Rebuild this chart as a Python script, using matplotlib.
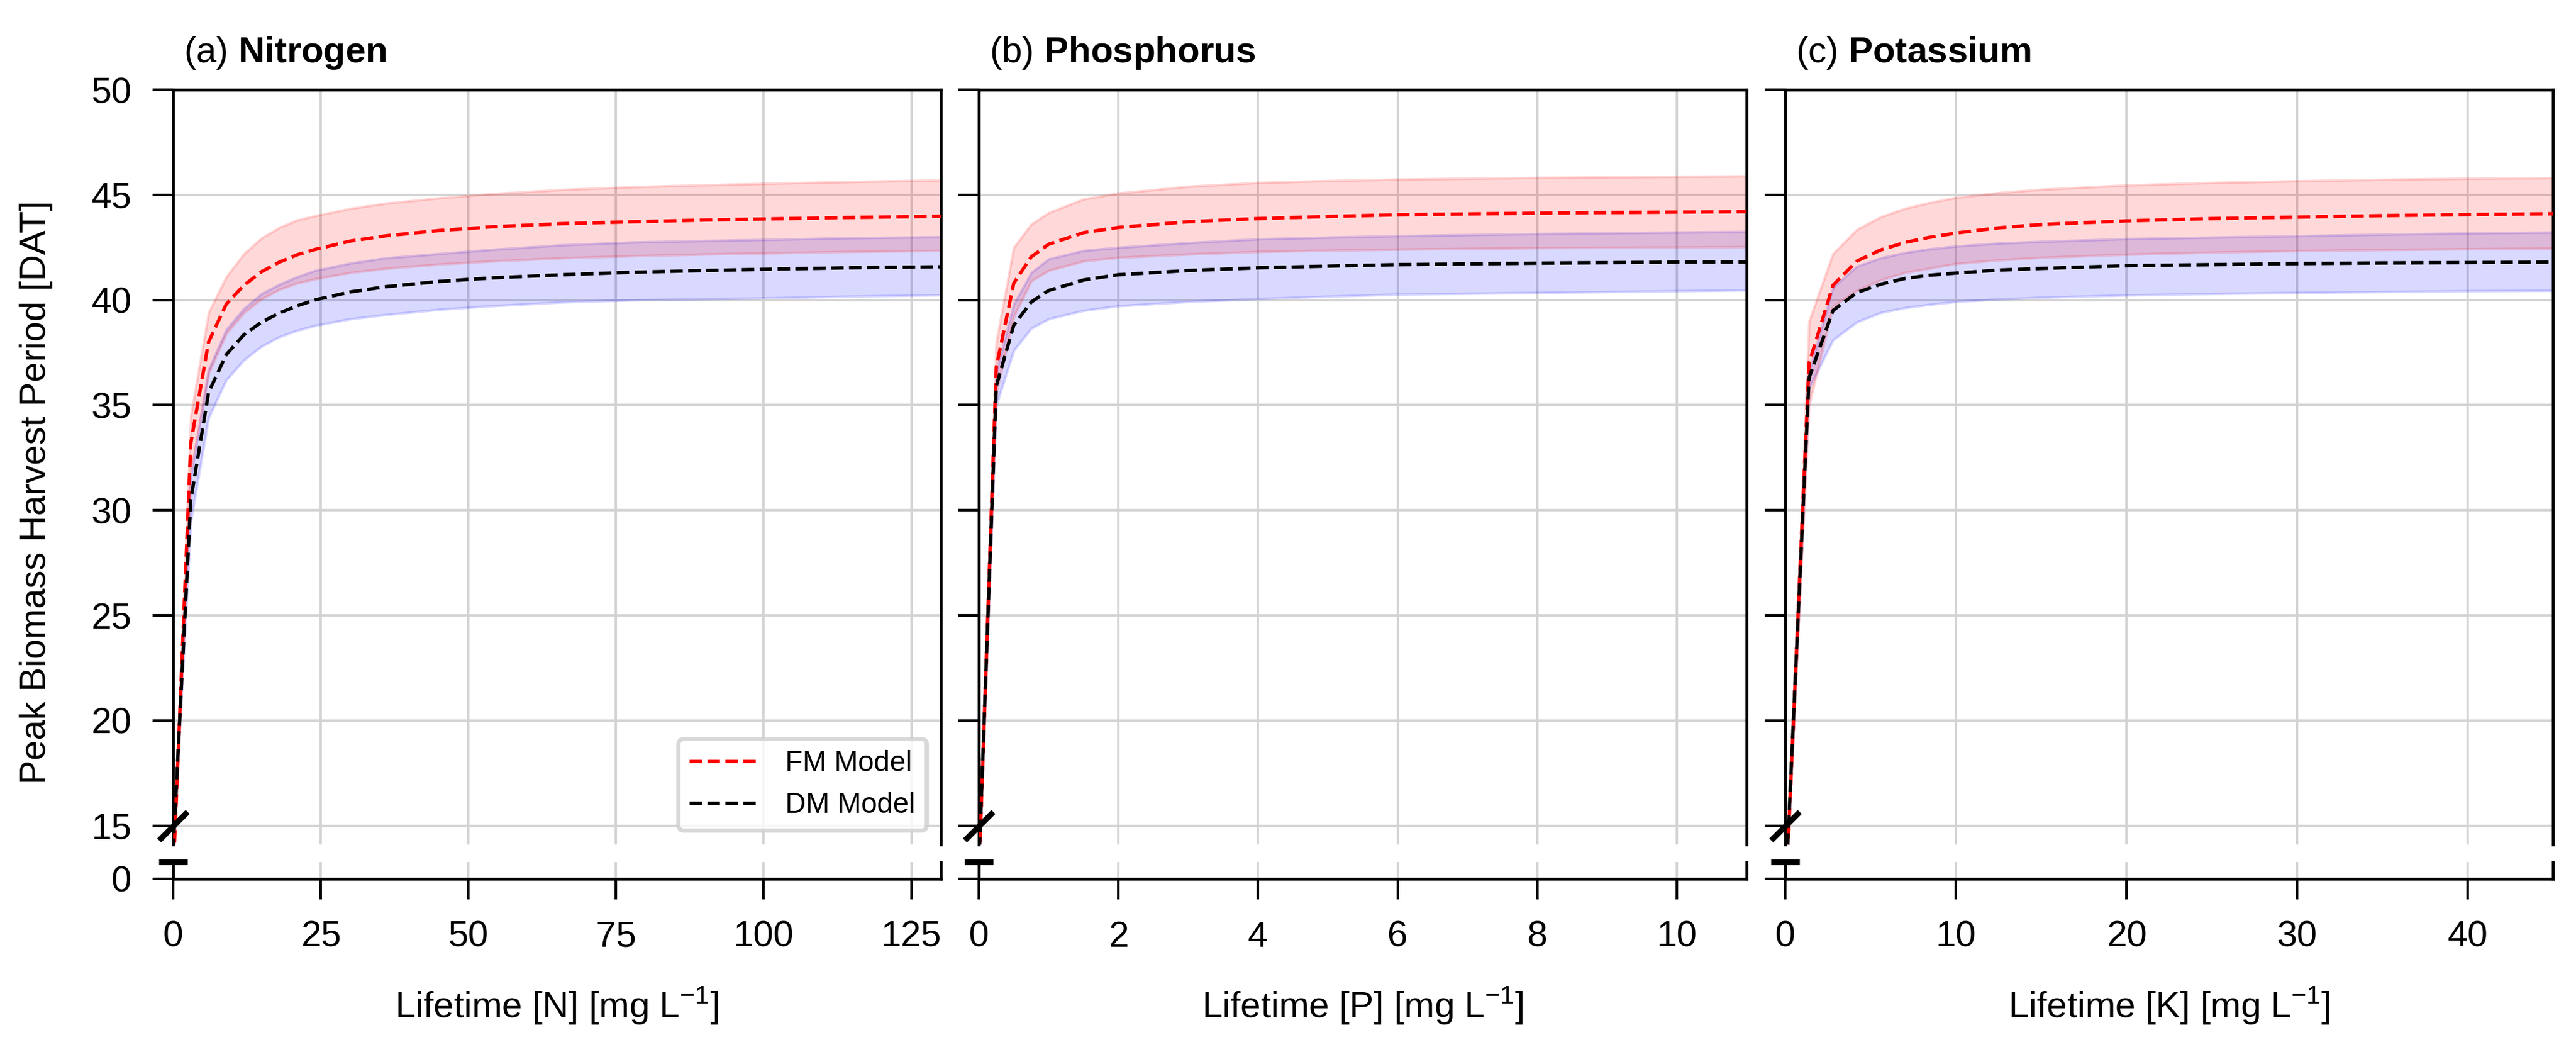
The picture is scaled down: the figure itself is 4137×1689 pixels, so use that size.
import matplotlib
matplotlib.use("Agg")
import matplotlib.pyplot as plt

plt.rcParams["font.family"] = ["Liberation Sans", "DejaVu Sans"]
plt.rcParams["mathtext.fontset"] = "custom"
plt.rcParams["mathtext.rm"] = "Liberation Sans"
plt.rcParams["mathtext.bf"] = "Liberation Sans:bold"

# ---------------- data ----------------
# (a) Nitrogen
n_x = [0, 3, 6, 9, 12, 15, 18, 21, 24, 30, 36, 45, 54, 66, 78, 90, 102, 114, 130]
n_fm = [12.5, 33.2, 38.0, 39.8, 40.7, 41.35, 41.8, 42.15, 42.4, 42.8, 43.05, 43.3,
        43.48, 43.63, 43.72, 43.8, 43.86, 43.92, 43.98]
n_fm_hi = [12.5, 34.5, 39.4, 41.1, 42.2, 42.95, 43.45, 43.8, 44.0, 44.35, 44.6, 44.85,
           45.05, 45.25, 45.38, 45.47, 45.55, 45.62, 45.7]
n_fm_lo = [12.5, 31.8, 36.5, 38.4, 39.4, 40.05, 40.5, 40.8, 41.0, 41.3, 41.5, 41.7,
           41.85, 42.0, 42.1, 42.18, 42.24, 42.3, 42.35]
n_dm = [13.8, 30.5, 35.6, 37.4, 38.35, 38.95, 39.38, 39.72, 40.0, 40.38, 40.63, 40.88,
        41.05, 41.2, 41.32, 41.4, 41.47, 41.53, 41.58]
n_dm_hi = [13.8, 31.6, 36.7, 38.6, 39.6, 40.3, 40.75, 41.1, 41.4, 41.75, 42.0, 42.2,
           42.4, 42.62, 42.75, 42.82, 42.88, 42.95, 43.0]
n_dm_lo = [13.8, 29.5, 34.4, 36.2, 37.15, 37.8, 38.25, 38.55, 38.78, 39.1, 39.3, 39.55,
           39.72, 39.9, 40.0, 40.05, 40.1, 40.17, 40.24]

# (b) Phosphorus
p_x = [0, 0.25, 0.5, 0.75, 1.0, 1.5, 2, 3, 4, 5, 6, 8, 10, 11]
p_fm = [12.5, 36.8, 40.8, 42.05, 42.65, 43.2, 43.45, 43.72, 43.87, 43.97, 44.05, 44.13, 44.18, 44.2]
p_fm_hi = [12.5, 38.0, 42.5, 43.6, 44.15, 44.8, 45.08, 45.4, 45.58, 45.67, 45.74, 45.82, 45.87, 45.89]
p_fm_lo = [12.5, 35.6, 39.2, 40.9, 41.4, 41.85, 42.02, 42.18, 42.3, 42.36, 42.41, 42.48, 42.51, 42.53]
p_dm = [13.0, 35.9, 38.8, 39.9, 40.45, 40.95, 41.2, 41.4, 41.53, 41.61, 41.68, 41.75, 41.8, 41.8]
p_dm_hi = [13.0, 36.6, 39.8, 41.3, 41.95, 42.35, 42.5, 42.72, 42.9, 42.98, 43.05, 43.15, 43.22, 43.25]
p_dm_lo = [13.0, 35.0, 37.6, 38.65, 39.1, 39.5, 39.72, 39.92, 40.06, 40.17, 40.27, 40.35, 40.43, 40.47]

# (c) Potassium
k_x = [0, 1.4, 2.8, 4.2, 5.6, 7, 8.4, 10, 12.5, 15, 20, 25, 30, 35, 40, 45]
k_fm = [11.0, 37.0, 40.7, 41.85, 42.38, 42.73, 42.97, 43.18, 43.43, 43.59, 43.76, 43.87,
        43.94, 44.01, 44.06, 44.1]
k_fm_hi = [11.0, 39.0, 42.2, 43.35, 43.95, 44.35, 44.62, 44.87, 45.1, 45.26, 45.46, 45.58,
           45.66, 45.73, 45.78, 45.81]
k_fm_lo = [11.0, 35.0, 39.7, 40.45, 40.95, 41.3, 41.5, 41.73, 41.9, 42.02, 42.17, 42.27,
           42.34, 42.39, 42.43, 42.46]
k_dm = [11.5, 36.3, 39.5, 40.35, 40.75, 41.02, 41.17, 41.28, 41.42, 41.5, 41.63, 41.68,
        41.73, 41.76, 41.78, 41.8]
k_dm_hi = [11.5, 36.6, 40.6, 41.6, 42.0, 42.25, 42.42, 42.56, 42.7, 42.78, 42.91, 42.98,
           43.05, 43.12, 43.18, 43.22]
k_dm_lo = [11.5, 35.8, 38.1, 38.95, 39.4, 39.63, 39.78, 39.92, 40.04, 40.12, 40.23, 40.3,
           40.35, 40.39, 40.43, 40.45]

panel_tags = ["(a)", "(b)", "(c)"]
panel_names = ["Nitrogen", "Phosphorus", "Potassium"]
nutrients = ["N", "P", "K"]
x_limits = [130, 11, 45]
x_ticks = [[0, 25, 50, 75, 100, 125], [0, 2, 4, 6, 8, 10], [0, 10, 20, 30, 40]]
y_ticks = [15, 20, 25, 30, 35, 40, 45, 50]

series = [
    (n_x, n_fm, n_fm_lo, n_fm_hi, n_dm, n_dm_lo, n_dm_hi),
    (p_x, p_fm, p_fm_lo, p_fm_hi, p_dm, p_dm_lo, p_dm_hi),
    (k_x, k_fm, k_fm_lo, k_fm_hi, k_dm, k_dm_lo, k_dm_hi),
]

# ---------------- figure ----------------
W, H, DPI = 4137, 1689, 300
fig = plt.figure(figsize=(W / DPI, H / DPI), dpi=DPI)

lefts = [278 / W, 1572 / W, 2867 / W]
width = 1233 / W
top_rect_y, top_rect_h = 1 - 1356 / H, (1356 - 144) / H
bot_rect_y, bot_rect_h = 1 - 1411 / H, (1411 - 1384) / H

grid_kw = dict(color="#d3d3d3", linewidth=0.9)
tick_kw = dict(direction="out", length=8, width=1.0, pad=8, labelsize=14)

for i in range(3):
    x, fm, fm_lo, fm_hi, dm, dm_lo, dm_hi = series[i]
    ax = fig.add_axes([lefts[i], top_rect_y, width, top_rect_h])
    axb = fig.add_axes([lefts[i], bot_rect_y, width, bot_rect_h], sharex=ax)

    for a in (ax, axb):
        a.fill_between(x, dm_lo, dm_hi, color="blue", alpha=0.15, zorder=2)
        a.fill_between(x, fm_lo, fm_hi, color="red", alpha=0.15, zorder=2)
        a.plot(x, fm, "--", color="red", lw=1.3, label="FM Model", zorder=3)
        a.plot(x, dm, "--", color="black", lw=1.3, label="DM Model", zorder=3)
        a.grid(True, **grid_kw)
        a.set_axisbelow(True)
        for s in a.spines.values():
            s.set_linewidth(1.1)
        a.tick_params(**tick_kw)

    ax.set_xlim(0, x_limits[i])
    ax.set_ylim(14.1, 50)
    ax.set_yticks(y_ticks)
    ax.spines["bottom"].set_visible(False)
    ax.tick_params(bottom=False, labelbottom=False)

    axb.set_ylim(0, 1)
    axb.set_yticks([0])
    axb.set_xticks(x_ticks[i])
    axb.spines["top"].set_visible(False)

    if i > 0:
        ax.tick_params(labelleft=False)
        axb.tick_params(labelleft=False)

    # break marks
    ax.plot([0], [15], marker=[(-1, -1), (1, 1)], markersize=11, mew=2.2,
            color="k", clip_on=False, zorder=5)
    axb.plot([0], [1], marker="_", markersize=11, mew=2.2, color="k",
             clip_on=False, zorder=5)

    ax.text(0.014, 1.036, panel_tags[i] + r" $\mathbf{" + panel_names[i] + "}$",
            transform=ax.transAxes, fontsize=14, ha="left", va="baseline")
    axb.set_xlabel("Lifetime [" + nutrients[i] + r"] [mg L$^{-1}$]",
                   fontsize=14, labelpad=12)

    if i == 0:
        leg = ax.legend(loc="lower right", fontsize=11, handlelength=2.35,
                        handletextpad=1.0, framealpha=0.8, fancybox=True)
        leg.get_frame().set_edgecolor("#cfcfcf")
        leg.get_frame().set_linewidth(1.6)

fig.text(58 / W, 1 - 790 / H, "Peak Biomass Harvest Period [DAT]", rotation=90,
         ha="center", va="center", fontsize=14)

fig.savefig("out.png", dpi=DPI)
